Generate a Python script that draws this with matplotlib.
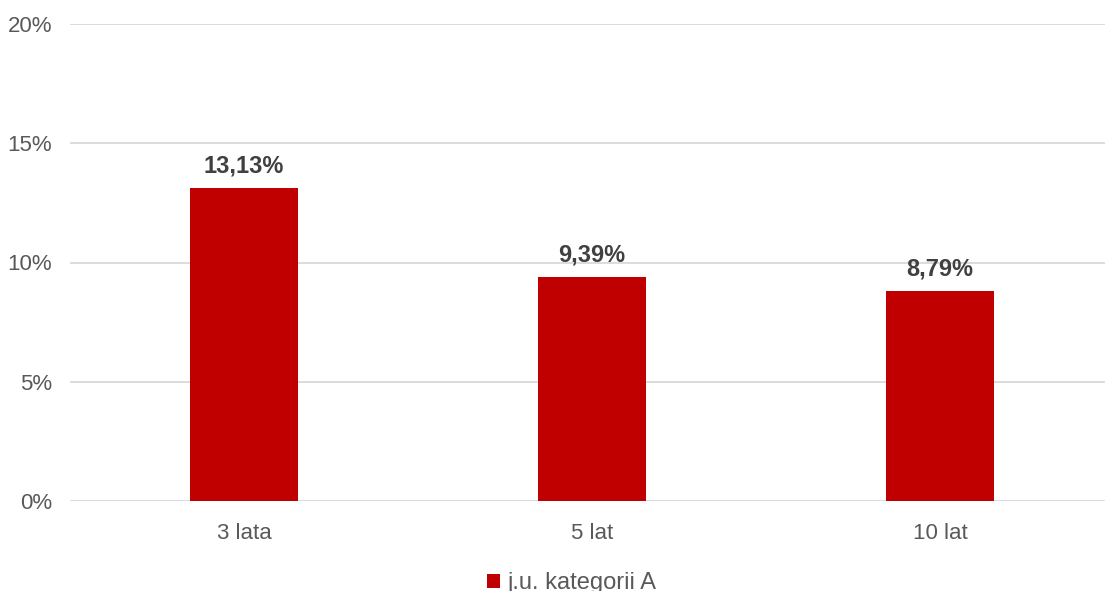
import matplotlib
matplotlib.use('Agg')
import matplotlib.pyplot as plt
from matplotlib.ticker import FuncFormatter

categories = ["3 lata", "5 lat", "10 lat"]
values = [13.13, 9.39, 8.79]
series_name = "j.u. kategorii A"
yticks = [0, 5, 10, 15, 20]

plt.rcParams['font.family'] = ['Liberation Sans', 'DejaVu Sans']

fig = plt.figure(figsize=(11.05, 5.91), dpi=100)
ax = fig.add_axes([70/1105, 1 - 501/591, 1044/1105, 477/591])

x = range(len(categories))
bars = ax.bar(x, values, width=0.31, color="#C00000", label=series_name, zorder=3)

for xi, v in zip(x, values):
    ax.text(xi, v + 0.45, ("%.2f%%" % v).replace(".", ","), ha="center", va="bottom",
            fontsize=17, fontweight="bold", color="#404040")

ax.set_xlim(-0.5, 2.5)
ax.set_ylim(0, 20)
ax.set_yticks(yticks)
ax.yaxis.set_major_formatter(FuncFormatter(lambda v, p: "%d%%" % v))
ax.set_xticks(list(x))
ax.set_xticklabels(categories)
ax.tick_params(axis="both", length=0, labelsize=16, colors="#595959")
ax.tick_params(axis="x", pad=16)
ax.tick_params(axis="y", pad=13)
ax.grid(axis="y", color="#D9D9D9", linewidth=1.3, zorder=0)
for s in ax.spines.values():
    s.set_visible(False)

fig.legend(handles=[bars], labels=[series_name], loc="center", bbox_to_anchor=(572/1105, 1 - 583/591),
           frameon=False, fontsize=17, handlelength=0.55, handleheight=0.55, handletextpad=0.3,
           labelcolor="#595959")

fig.savefig("out.png", dpi=100)
